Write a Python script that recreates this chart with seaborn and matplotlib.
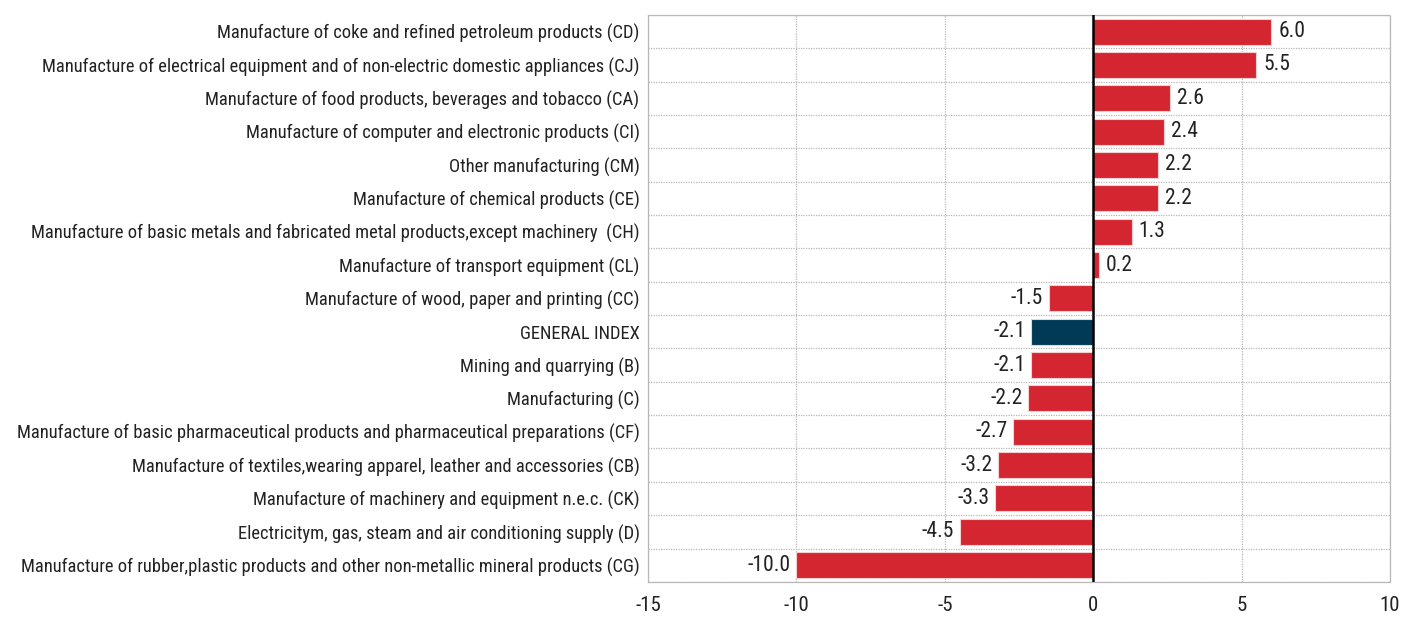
import numpy as np
import pandas as pd
import matplotlib
matplotlib.use("Agg")
import matplotlib.pyplot as plt
import seaborn as sns
from matplotlib.ticker import FixedLocator

categories = [
    "Manufacture of coke and refined petroleum products (CD)",
    "Manufacture of electrical equipment and of non-electric domestic appliances (CJ)",
    "Manufacture of food products, beverages and tobacco (CA)",
    "Manufacture of computer and electronic products (CI)",
    "Other manufacturing (CM)",
    "Manufacture of chemical products (CE)",
    "Manufacture of basic metals and fabricated metal products,except machinery  (CH)",
    "Manufacture of transport equipment (CL)",
    "Manufacture of wood, paper and printing (CC)",
    "GENERAL INDEX",
    "Mining and quarrying (B)",
    "Manufacturing (C)",
    "Manufacture of basic pharmaceutical products and pharmaceutical preparations (CF)",
    "Manufacture of textiles,wearing apparel, leather and accessories (CB)",
    "Manufacture of machinery and equipment n.e.c. (CK)",
    "Electricitym, gas, steam and air conditioning supply (D)",
    "Manufacture of rubber,plastic products and other non-metallic mineral products (CG)",
]
values = [6.0, 5.5, 2.6, 2.4, 2.2, 2.2, 1.3, 0.2, -1.5, -2.1, -2.1, -2.2, -2.7, -3.2, -3.3, -4.5, -10.0]
x_ticks = [-15, -10, -5, 0, 5, 10]

red = "#d42631"
navy = "#003a57"
colors = [navy if c == "GENERAL INDEX" else red for c in categories]

df = pd.DataFrame({"category": categories, "value": values})

sns.set_style("white")
plt.rcParams["font.family"] = ["Liberation Sans Narrow", "Roboto Condensed", "Archivo Narrow", "DejaVu Sans"]

fig, ax = plt.subplots(figsize=(14.04, 6.19), dpi=100)
fig.subplots_adjust(left=0.4615, right=0.990, top=0.976, bottom=0.060)

sns.barplot(
    data=df,
    x="value",
    y="category",
    hue="category",
    palette=colors,
    legend=False,
    orient="h",
    width=0.78,
    edgecolor="#f4d0d2",
    linewidth=0.8,
    saturation=1,
    ax=ax,
)

ax.set_xlim(-15, 10)
ax.set_ylim(len(categories) - 0.5, -0.5)
ax.set_xticks(x_ticks)
ax.set_xticklabels([str(t) for t in x_ticks])
ax.yaxis.set_minor_locator(FixedLocator(np.arange(len(categories) + 1) - 0.5))

# dotted grey grid, like the original
grid_style = dict(color="#b8b8b8", linestyle=(0, (1, 1)), linewidth=0.9)
ax.grid(axis="x", which="major", **grid_style)
ax.grid(axis="y", which="minor", **grid_style)
ax.grid(axis="y", which="major", visible=False)
ax.set_axisbelow(True)

for sp in ax.spines.values():
    sp.set_visible(True)
    sp.set_color("#b8b8b8")
    sp.set_linestyle((0, (1, 1)))
    sp.set_linewidth(0.9)

ax.axvline(0, color="black", linewidth=1.8, zorder=5)

ax.tick_params(axis="both", which="both", length=0)
ax.tick_params(axis="x", labelsize=15, pad=10, colors="#222222")
ax.tick_params(axis="y", labelsize=13.3, pad=6, colors="#222222")
ax.set_xlabel("")
ax.set_ylabel("")

for i, v in enumerate(values):
    if v >= 0:
        ax.annotate(f"{v:.1f}", (v, i), xytext=(5, 0), textcoords="offset points",
                    ha="left", va="center", fontsize=15.5, color="#222222")
    else:
        ax.annotate(f"{v:.1f}", (v, i), xytext=(-4, 0), textcoords="offset points",
                    ha="right", va="center", fontsize=15.5, color="#222222")

fig.savefig("out.png", dpi=100, facecolor="white")
